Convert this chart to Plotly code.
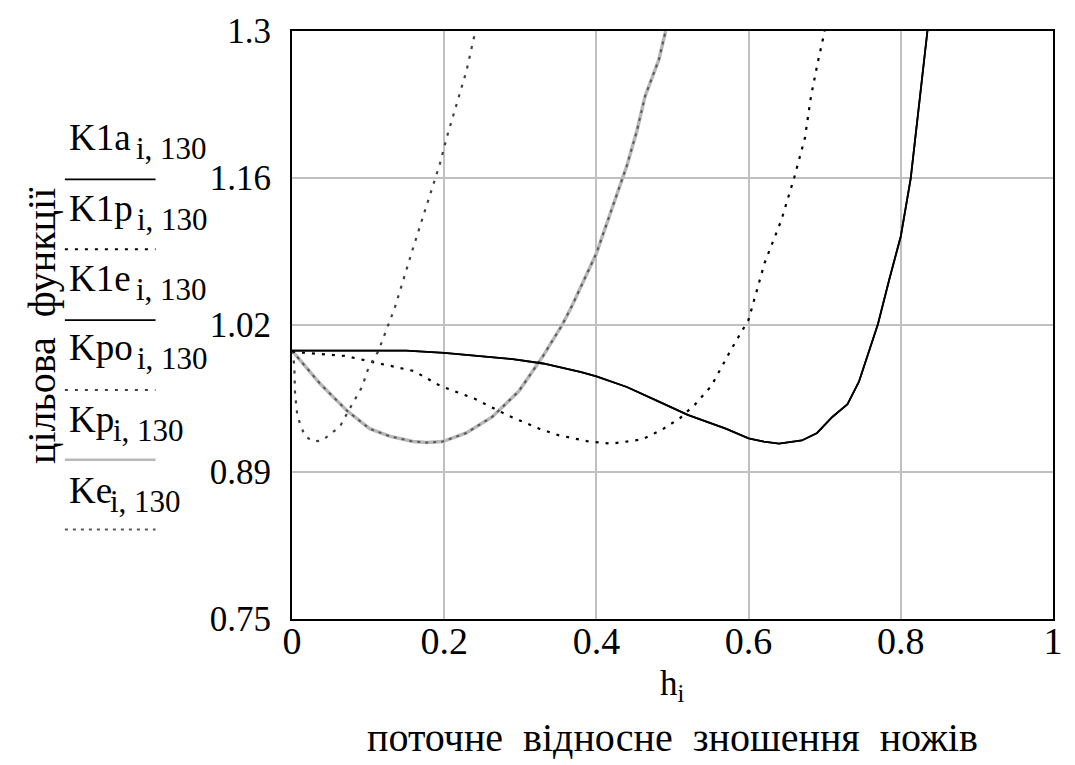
import plotly.graph_objects as go

# ---- data ----
h_K1a = [0, 0.05, 0.1, 0.15, 0.2, 0.25, 0.29, 0.33, 0.35, 0.38, 0.4, 0.44, 0.48, 0.52, 0.57, 0.6, 0.62, 0.64,
         0.67, 0.69, 0.71, 0.73, 0.745, 0.77, 0.785, 0.8, 0.813, 0.826, 0.835]
v_K1a = [1.001, 1.001, 1.001, 1.001, 0.999, 0.996, 0.993, 0.989, 0.986, 0.981, 0.977, 0.967, 0.954, 0.941, 0.928,
         0.919, 0.916, 0.914, 0.917, 0.924, 0.939, 0.951, 0.972, 1.026, 1.068, 1.108, 1.162, 1.246, 1.300]
h_K1e = h_K1a
v_K1e = v_K1a

h_K1p = [0, 0.07, 0.115, 0.16, 0.195, 0.24, 0.285, 0.325, 0.35, 0.39, 0.42, 0.46, 0.486, 0.51, 0.53, 0.551, 0.564,
         0.577, 0.6, 0.621, 0.643, 0.66, 0.674, 0.682, 0.691, 0.7]
v_K1p = [1.0, 0.996, 0.989, 0.982, 0.968, 0.956, 0.940, 0.928, 0.922, 0.916, 0.914, 0.918, 0.927, 0.938, 0.951,
         0.968, 0.985, 1.002, 1.030, 1.083, 1.123, 1.163, 1.200, 1.239, 1.271, 1.300]

h_Kp = [0, 0.037, 0.072, 0.102, 0.128, 0.159, 0.177, 0.198, 0.229, 0.263, 0.298, 0.329, 0.355, 0.368, 0.40, 0.44,
        0.453, 0.464, 0.482, 0.491]
v_Kp = [1.001, 0.970, 0.945, 0.928, 0.921, 0.916, 0.915, 0.916, 0.924, 0.939, 0.963, 0.995, 1.025, 1.043, 1.092,
        1.174, 1.206, 1.239, 1.273, 1.300]
h_Ke = h_Kp
v_Ke = v_Kp

h_Kpo = [0, 0.003, 0.004, 0.007, 0.012, 0.017, 0.028, 0.04, 0.052, 0.063, 0.076, 0.085, 0.092, 0.1, 0.113, 0.119,
         0.135, 0.16, 0.194, 0.204, 0.217, 0.229, 0.241]
v_Kpo = [1.001, 0.988, 0.961, 0.940, 0.930, 0.921, 0.916, 0.917, 0.924, 0.930, 0.947, 0.958, 0.967, 0.984, 1.000,
         1.011, 1.041, 1.099, 1.175, 1.202, 1.232, 1.262, 1.300]

x_tickvals = [0, 0.2, 0.4, 0.6, 0.8, 1.0]
x_ticktext = ["0", "0.2", "0.4", "0.6", "0.8", "1"]
y_tickvals = [0.75, 0.8875, 1.025, 1.1625, 1.3]
y_ticktext = ["0.75", "0.89", "1.02", "1.16", "1.3"]

legend_main = ["K1a", "K1p", "K1e", "Kpo", "Kp", "Ke"]
legend_sub = "i, 130"

x_title = "поточне  відносне  зношення  ножів"
y_title = "цільова  функції"

# ---- layout geometry (pixels) ----
W, H = 1075, 765
L, R, T, B = 292, 1056, 21, 619
FONT = "Liberation Serif"


def px2x(px):
    return (px - L) / (R - L)


def py2y(py):
    return (B - py) / (B - T)


styles = {
    "Kp": dict(color="#b8b8b8", width=3.5, dash="solid"),
    "Ke": dict(color="#585858", width=2, dash="3px,5px"),
    "K1a": dict(color="#000000", width=1.8, dash="solid"),
    "K1e": dict(color="#000000", width=1.8, dash="solid"),
    "K1p": dict(color="#000000", width=2.2, dash="3px,7px"),
    "Kpo": dict(color="#404040", width=2.2, dash="3px,7px"),
}

series = {
    "Kp": (h_Kp, v_Kp),
    "Ke": (h_Ke, v_Ke),
    "K1p": (h_K1p, v_K1p),
    "Kpo": (h_Kpo, v_Kpo),
    "K1e": (h_K1e, v_K1e),
    "K1a": (h_K1a, v_K1a),
}

fig = go.Figure()
for name, (hx, vy) in series.items():
    fig.add_trace(go.Scatter(x=hx, y=vy, mode="lines", name=name, line=styles[name],
                             showlegend=False, hoverinfo="skip"))

fig.update_layout(
    width=W, height=H,
    margin=dict(l=L, r=W - R, t=T, b=H - B),
    paper_bgcolor="white", plot_bgcolor="white",
    font=dict(family=FONT, color="black"),
    xaxis=dict(range=[0, 1], tickvals=x_tickvals, ticktext=x_ticktext,
               showgrid=True, gridcolor="#c0c0c0", gridwidth=1.5, zeroline=False,
               showline=True, mirror=True, linecolor="black", linewidth=2,
               ticks="", tickfont=dict(family=FONT, size=38, color="black"),
               ticklabelstandoff=-13),
    yaxis=dict(range=[0.75, 1.3], tickvals=y_tickvals, ticktext=y_ticktext,
               showgrid=True, gridcolor="#c0c0c0", gridwidth=1.5, zeroline=False,
               showline=True, mirror=True, linecolor="black", linewidth=2,
               ticks="", tickfont=dict(family=FONT, size=35, color="black"),
               ticklabelstandoff=12),
)

# legend-like labels at the left
main_cy = [129, 202, 273, 343, 416, 488]
sub_x = [133, 134, 133, 134, 110, 107]
line_y = [172, 243, 315, 386, 457, 528]
leg_keys = ["K1a", "K1p", "K1e", "Kpo", "Kp", "Ke"]
for i, key in enumerate(leg_keys):
    fig.add_annotation(x=px2x(66), y=py2y(main_cy[i]), xref="paper", yref="paper",
                       text=legend_main[i], showarrow=False, xanchor="left", yanchor="middle",
                       font=dict(family=FONT, size=37, color="black"))
    fig.add_annotation(x=px2x(sub_x[i]), y=py2y(main_cy[i] + 11), xref="paper", yref="paper",
                       text=legend_sub, showarrow=False, xanchor="left", yanchor="middle",
                       font=dict(family=FONT, size=31, color="black"))
    st = styles[key]
    fig.add_shape(type="line", xref="paper", yref="paper",
                  x0=px2x(64), x1=px2x(155), y0=py2y(line_y[i]), y1=py2y(line_y[i]),
                  line=dict(color=st["color"], width=2 if st["dash"] != "solid" else (2.5 if key == "Kp" else 1.8),
                            dash=st["dash"]))

# axis titles
fig.add_annotation(x=0.5, y=py2y(711), xref="paper", yref="paper", text="h<sub>i</sub>",
                   showarrow=False, xanchor="center", yanchor="bottom",
                   font=dict(family=FONT, size=35, color="black"))
fig.add_annotation(x=0.5, y=py2y(764), xref="paper", yref="paper", text=x_title,
                   showarrow=False, xanchor="center", yanchor="bottom",
                   font=dict(family=FONT, size=40, color="black"))
fig.add_annotation(x=px2x(40), y=py2y(320), xref="paper", yref="paper", text=y_title,
                   showarrow=False, xanchor="center", yanchor="middle", textangle=-90,
                   font=dict(family=FONT, size=40, color="black"))

fig.write_html("out.html")
